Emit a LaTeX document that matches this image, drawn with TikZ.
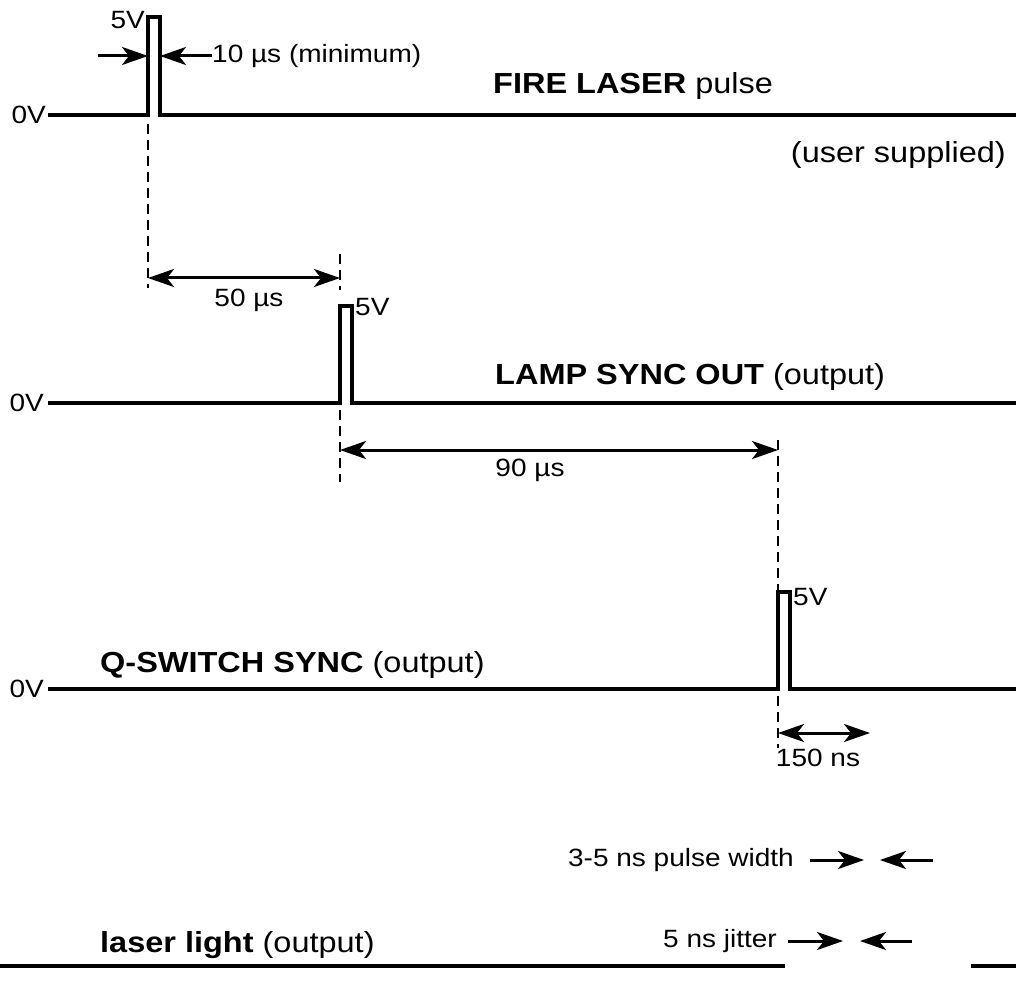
\documentclass[tikz,border=0pt]{standalone}
\usepackage{fontspec}
\setmainfont[FakeStretch=1.12]{Liberation Sans}
\usetikzlibrary{arrows.meta}
\tikzset{
  sig/.style={line width=3.5pt},
  guide/.style={line width=2.5pt, dash pattern=on 10pt off 6pt},
  dim/.style={line width=3pt, {Stealth[length=26pt,width=18pt,inset=7pt]}-{Stealth[length=26pt,width=18pt,inset=7pt]}},
  pointer/.style={line width=3pt, -{Stealth[length=26pt,width=18pt,inset=7pt]}},
  lbl/.style={font=\fontsize{25}{29}\selectfont, inner sep=0pt},
  title/.style={font=\fontsize{29}{33}\selectfont, inner sep=0pt}
}
\begin{document}
\begin{tikzpicture}[x=1pt,y=-1pt]
        \useasboundingbox (0,0) rectangle (1016,981);
        % fire laser pulse
        \coordinate (fireup) at (148,115);
        \coordinate (firedn) at (160,115);
        \draw[sig] (48,115) -- (fireup) -- (148,17) -- (160,17) -- (firedn) -- (1016,115);
        \node[lbl, anchor=east] (zero1) at (46,115) {0V};
        \node[lbl, anchor=south east] (five1) at (145,29) {5V};
        \coordinate (wl) at (98,56);
        \coordinate (wr) at (212,56);
        \draw[pointer] (wl) -- (148,56);
        \draw[pointer] (wr) -- (160,56);
        \node[lbl, anchor=west] (minw) at (wr) {10 µs (minimum)};
        \node[title, anchor=base west] (fire) at (493,94) {\textbf{FIRE LASER} pulse};
        \node[title, anchor=base east] (user) at (1006,163) {(user supplied)};
        % lamp sync pulse
        \coordinate (lampup) at (340,403);
        \coordinate (lampdn) at (352,403);
        \draw[sig] (48,403) -- (lampup) -- (340,306) -- (352,306) -- (lampdn) -- (1016,403);
        \node[lbl, anchor=east] (zero2) at (44,403) {0V};
        \node[lbl, anchor=west] (five2) at (355,307) {5V};
        \node[title, anchor=base west] (lamp) at (495,384) {\textbf{LAMP SYNC OUT} (output)};
        % q-switch pulse
        \coordinate (qup) at (778,689);
        \coordinate (qdn) at (790,689);
        \draw[sig] (48,689) -- (qup) -- (778,592) -- (790,592) -- (qdn) -- (1016,689);
        \node[lbl, anchor=east] (zero3) at (44,689) {0V};
        \node[lbl, anchor=west] (five3) at (793,597) {5V};
        \node[title, anchor=base west] (qsw) at (100,672) {\textbf{Q-SWITCH SYNC} (output)};
        % delays
        \coordinate (d1a) at (148,278);
        \coordinate (d1b) at (340,278);
        \draw[guide] (148,124) -- (148,288);
        \draw[guide] (340,254) -- (340,290);
        \draw[dim] (d1a) -- (d1b);
        \node[lbl] (t50) at (249,300) {50 µs};
        \coordinate (d2a) at (340,450);
        \coordinate (d2b) at (778,450);
        \draw[guide] (340,410) -- (340,482);
        \draw[guide] (778,440) -- (778,600);
        \draw[dim] (d2a) -- (d2b);
        \node[lbl] (t90) at (530,470) {90 µs};
        \coordinate (d3a) at (778,733);
        \coordinate (d3b) at (870,733);
        \draw[guide] (778,696) -- (778,748);
        \draw[dim] (d3a) -- (d3b);
        \node[lbl] (t150) at (818,758) {150 ns};
        % laser light
        \node[lbl, anchor=east] (pw) at (794,860) {3-5 ns pulse width};
        \coordinate (pwl) at (810,860);
        \coordinate (pwr) at (933,860);
        \draw[pointer] (pwl) -- (864,860);
        \draw[pointer] (pwr) -- (880,860);
        \node[lbl, anchor=east] (jit) at (777,941) {5 ns jitter};
        \coordinate (jl) at (788,941);
        \coordinate (jr) at (912,941);
        \draw[pointer] (jl) -- (843,941);
        \draw[pointer] (jr) -- (860,941);
        \node[title, anchor=base west] (light) at (100,952) {\textbf{laser light} (output)};
        \draw[sig] (0,966) -- (785,966);
        \draw[sig] (971,966) -- (1016,966);
    \end{tikzpicture}
\end{document}
